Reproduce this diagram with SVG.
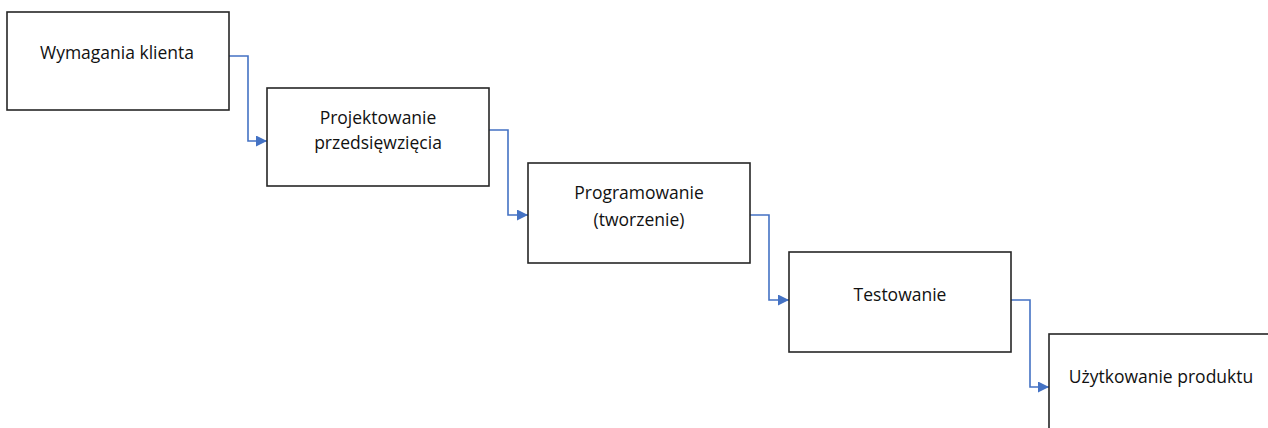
<svg xmlns="http://www.w3.org/2000/svg" width="1268" height="428" viewBox="0 0 1268 428">
<style>
.box{fill:#fff;stroke:#262626;stroke-width:1.6}
.lbl{font-family:"Open Sans","Liberation Sans",sans-serif;font-size:17.5px;fill:#111;text-anchor:middle}
.con{fill:none;stroke:#4472C4;stroke-width:1.6}
</style>
<defs>
<marker id="arr" viewBox="0 0 10 10" refX="10" refY="5" markerWidth="11" markerHeight="11" markerUnits="userSpaceOnUse" orient="auto">
<path d="M0,0 L10,5 L0,10 z" fill="#4472C4"/>
</marker>
</defs>
<rect width="1268" height="428" fill="#fff"/>
<g id="connectors">
<path class="con" d="M229,56 H248 V141 H267" marker-end="url(#arr)"/>
<path class="con" d="M489,130 H508 V215 H528" marker-end="url(#arr)"/>
<path class="con" d="M750,215 H769 V300 H789" marker-end="url(#arr)"/>
<path class="con" d="M1011,300 H1030 V387 H1049" marker-end="url(#arr)"/>
</g>
<g id="n1">
<rect class="box" x="7" y="12" width="222" height="98"/>
<text class="lbl" x="117" y="59">Wymagania klienta</text>
</g>
<g id="n2">
<rect class="box" x="267" y="88" width="222" height="98"/>
<text class="lbl" x="378" y="124">Projektowanie</text>
<text class="lbl" x="378" y="149">przedsięwzięcia</text>
</g>
<g id="n3">
<rect class="box" x="528" y="163" width="222" height="100"/>
<text class="lbl" x="639" y="199">Programowanie</text>
<text class="lbl" x="639" y="226">(tworzenie)</text>
</g>
<g id="n4">
<rect class="box" x="789" y="252" width="222" height="100"/>
<text class="lbl" x="900" y="301">Testowanie</text>
</g>
<g id="n5">
<rect class="box" x="1049" y="334" width="230" height="110"/>
<text class="lbl" x="1161" y="383">Użytkowanie produktu</text>
</g>
</svg>
